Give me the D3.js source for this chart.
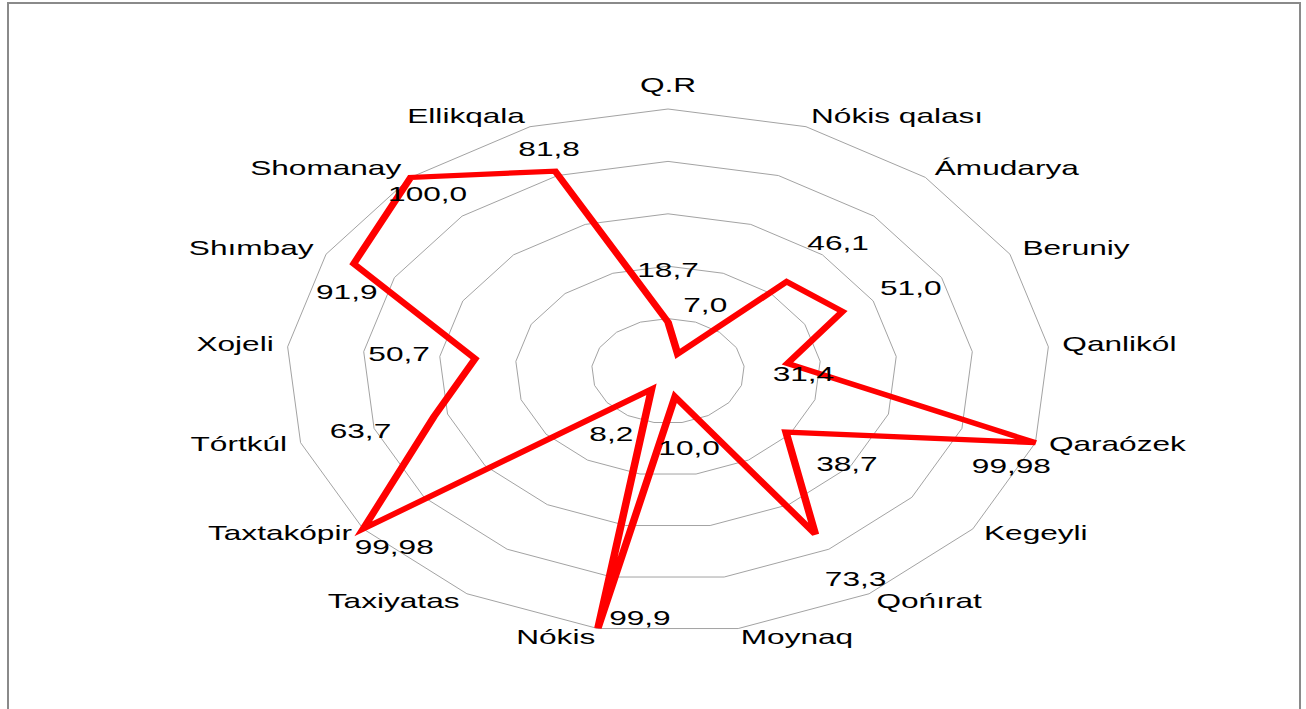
<!DOCTYPE html>
<html>
<head>
<meta charset="utf-8">
<script src="https://cdn.jsdelivr.net/npm/d3@7"></script>
<style>
  body { margin: 0; background: #fff; }
  text { font-family: "Liberation Sans", Arial, sans-serif; fill: #000; }
</style>
</head>
<body>
<div id="chart"></div>
<script>
// Data
const categories = ["Q.R", "Nókis qalası", "Ámudarya", "Beruniy", "Qanlikól", "Qaraózek",
    "Kegeyli", "Qońırat", "Moynaq", "Nókis", "Taxiyatas", "Taxtakópir", "Tórtkúl",
    "Xojeli", "Shımbay", "Shomanay", "Ellikqala"];
const values = [18.7, 7.0, 46.1, 51.0, 31.4, 99.98, 38.7, 73.3, 10.0, 99.9, 8.2, 99.98,
    63.7, 50.7, 91.9, 100.0, 81.8];
const ringTicks = [20, 40, 60, 80, 100];

// Layout (the picture is stretched sideways)
const width = 1306, height = 709;
const cx = 668, cy = 371, R = 262;
const sx = 1.458;       // horizontal stretch of the plot
const textSX = 1.58;    // horizontal stretch of the text
const labelGap = 20;    // value labels sit this far (in data units) outside the point

// labels that were moved by hand: offset in px from the point
const labelNudge = {
    "Qanlikól": [16, 11],
    "Qaraózek": [-24, 23],
    "Nókis": [42, -10],
    "Taxtakópir": [31, 18],
    "Shımbay": [-7, 28],
    "Shomanay": [17, 17],
    "Ellikqala": [-6, -22]
};

const svg = d3.select("#chart")
    .append("svg")
    .attr("width", width)
    .attr("height", height);

// Frame
svg.append("rect")
    .attr("x", 8)
    .attr("y", 3)
    .attr("width", 1292)
    .attr("height", 730)
    .attr("fill", "none")
    .attr("stroke", "#8a8a8a")
    .attr("stroke-width", 2);

// Scales
const r = d3.scaleLinear().domain([0, 100]).range([0, R]);
const angle = d3.scaleLinear().domain([0, categories.length]).range([0, 2 * Math.PI]);

const px = (i, v) => cx + sx * r(v) * Math.sin(angle(i));
const py = (i, v) => cy - r(v) * Math.cos(angle(i));

const g = svg.append("g")
    .attr("transform", `translate(${cx},${cy}) scale(${sx},1)`);

// Grid rings
g.selectAll("path.ring")
    .data(ringTicks)
    .join("path")
    .attr("class", "ring")
    .attr("d", t => d3.lineRadial()
        .angle((d, i) => angle(i))
        .radius(r(t))
        .curve(d3.curveLinearClosed)(categories))
    .attr("fill", "none")
    .attr("stroke", "#a3a3a3")
    .attr("stroke-width", 1)
    .attr("vector-effect", "non-scaling-stroke");

// Series line
g.append("path")
    .attr("d", d3.lineRadial()
        .angle((d, i) => angle(i))
        .radius(d => r(d))
        .curve(d3.curveLinearClosed)(values))
    .attr("fill", "none")
    .attr("stroke", "#ff0000")
    .attr("stroke-width", 5.2)
    .attr("stroke-linejoin", "miter");

// Category labels
svg.selectAll("text.cat")
    .data(categories)
    .join("text")
    .attr("class", "cat")
    .attr("transform", (d, i) => {
        const s = Math.sin(angle(i)), c = Math.cos(angle(i));
        const x = px(i, 100) + 14 * s;
        const y = Math.abs(s) < 0.01 ? py(i, 100) - 24 : py(i, 100) - 10 * c - 1.5;
        return `translate(${x},${y}) scale(${textSX},1)`;
    })
    .attr("dy", "0.35em")
    .attr("text-anchor", (d, i) => {
        const s = Math.sin(angle(i));
        return Math.abs(s) < 0.01 ? "middle" : (s > 0 ? "start" : "end");
    })
    .style("font-size", "20px")
    .text(d => d);

// Value labels
const fmt = v => {
    const dec = v.toString().includes(".") ? v.toString().split(".")[1].length : 0;
    return v.toFixed(Math.max(1, dec)).replace(".", ",");
};

svg.selectAll("text.val")
    .data(values)
    .join("text")
    .attr("class", "val")
    .attr("transform", (d, i) => {
        const nudge = labelNudge[categories[i]];
        const x = nudge ? px(i, d) + nudge[0] : px(i, d + labelGap);
        const y = nudge ? py(i, d) + nudge[1] : py(i, d + labelGap);
        return `translate(${x},${y}) scale(${textSX},1)`;
    })
    .attr("dy", "0.35em")
    .attr("text-anchor", "middle")
    .style("font-size", "20px")
    .text(d => fmt(d));
</script>
</body>
</html>
